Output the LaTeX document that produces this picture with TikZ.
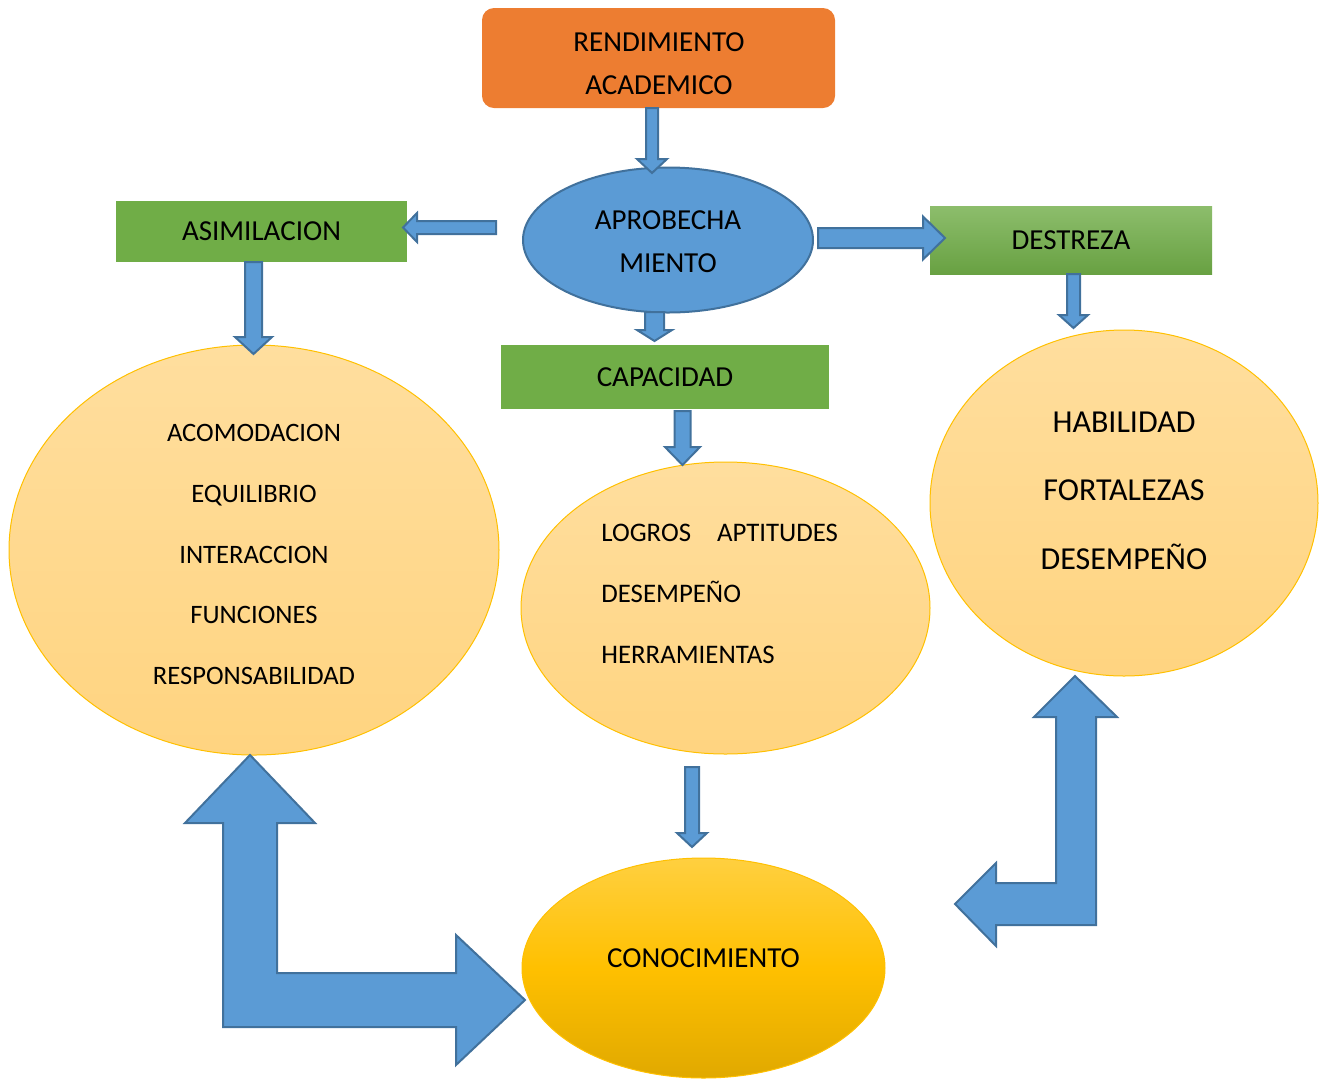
\documentclass[tikz,border=0pt]{standalone}
\usepackage{fontspec}
\setmainfont{Carlito}
\usetikzlibrary{shapes.geometric}

\definecolor{naranja}{HTML}{ED7D31}
\definecolor{azul}{HTML}{5B9BD5}
\definecolor{azulborde}{HTML}{41719C}
\definecolor{verde}{HTML}{70AD47}
\definecolor{oro}{HTML}{FFC000}
\definecolor{cremaclara}{HTML}{FFDE9E}
\definecolor{crema}{HTML}{FFD480}

% flecha vertical: x, y inicio, y base punta, y punta, ancho, ancho punta
\newcommand{\flechaV}[6]{%
  \draw[flecha] ({#1-#5/2},#2) -- ({#1+#5/2},#2) -- ({#1+#5/2},#3) -- ({#1+#6/2},#3)
    -- (#1,#4) -- ({#1-#6/2},#3) -- ({#1-#5/2},#3) -- cycle;}
% flecha horizontal: y, x inicio, x base punta, x punta, ancho, ancho punta
\newcommand{\flechaH}[6]{%
  \draw[flecha] (#2,{#1-#5/2}) -- (#2,{#1+#5/2}) -- (#3,{#1+#5/2}) -- (#3,{#1+#6/2})
    -- (#4,#1) -- (#3,{#1-#6/2}) -- (#3,{#1-#5/2}) -- cycle;}

\begin{document}
\begin{tikzpicture}[x=0.5pt, y=-0.5pt,
	flecha/.style={fill=azul, draw=azulborde, line width=1pt},
	caja/.style={rectangle, fill=verde, inner sep=0pt, font=\fontsize{14.5}{17}\selectfont},
	elipse/.style={ellipse, inner sep=0pt, draw=oro, line width=0.5pt, top color=cremaclara, bottom color=crema},
	texto/.style={align=center, inner sep=0pt}]
	\useasboundingbox (0,0) rectangle (1324,1078);
	% cajas y elipses
	\node[rectangle, rounded corners=6pt, fill=naranja, minimum width=176.5pt, minimum height=50pt] (rend) at (658.5,58) {};
	\node[texto, font=\fontsize{14.5}{21.5}\selectfont] (rendtxt) at (659,63.5) {RENDIMIENTO\\ACADEMICO};
	\node[ellipse, fill=azul, draw=azulborde, line width=1pt, inner sep=0pt, minimum width=145pt, minimum height=72.5pt] (aprov) at (668,240) {};
	\node[texto, font=\fontsize{14.5}{21.5}\selectfont] (aprovtxt) at (668,241.5) {APROBECHA\\MIENTO};
	\node[caja, minimum width=145.5pt, minimum height=30.5pt] (asim) at (261.5,231.5) {ASIMILACION};
	\node[caja, minimum width=141pt, minimum height=34pt, top color=verde!80!white, bottom color=verde!93!black] (destr) at (1071,240) {DESTREZA};
	\node[caja, minimum width=164pt, minimum height=32pt] (capac) at (665,377) {CAPACIDAD};
	\node[elipse, minimum width=245pt, minimum height=205pt] (izq) at (254,550) {};
	\node[texto, font=\fontsize{13.3}{30.4}\selectfont] (izqtxt) at (254,554.5)
		{ACOMODACION\\EQUILIBRIO\\INTERACCION\\FUNCIONES\\RESPONSABILIDAD};
	\node[elipse, minimum width=204.5pt, minimum height=146pt] (medio) at (725.5,608) {};
	\node[texto, align=left, anchor=west, font=\fontsize{13.4}{30.5}\selectfont] (mediotxt) at (601,594)
		{LOGROS\hspace{13pt}APTITUDES\\DESEMPEÑO\\HERRAMIENTAS};
	\node[elipse, minimum width=194pt, minimum height=173pt] (der) at (1124,503) {};
	\node[texto, font=\fontsize{16}{34.25}\selectfont] (dertxt) at (1124,490.5)
		{HABILIDAD\\FORTALEZAS\\DESEMPEÑO};
	\node[ellipse, inner sep=0pt, draw=oro, line width=0.5pt, minimum width=181.5pt, minimum height=110pt,
		top color=oro!75!white, bottom color=oro!88!black, middle color=oro] (cono) at (703.5,968) {};
	\node[texto, font=\fontsize{14.5}{17}\selectfont] (conotxt) at (703.5,958) {CONOCIMIENTO};
	% flechas
	\flechaV{652}{108}{159}{173}{12}{30}
	\flechaH{227.5}{496}{417}{403}{13}{29}
	\flechaH{238}{818}{923}{945}{20}{43}
	\flechaV{654.5}{312}{330}{341}{19}{35}
	\flechaV{253.5}{262}{337}{354}{17}{37}
	\flechaV{1073.5}{274}{315}{328}{13}{29}
	\flechaV{682.5}{411}{447}{465}{16}{35}
	\flechaV{692}{767}{833}{847}{14}{30}
	\draw[flecha] (250,755) -- (315,823) -- (277,823) -- (277,973) -- (456,973) -- (456,935) -- (525,1000)
		-- (456,1065) -- (456,1027) -- (223,1027) -- (223,823) -- (185,823) -- cycle;
	\draw[flecha] (1075,676) -- (1117,717) -- (1096,717) -- (1096,925) -- (996,925) -- (996,946) -- (955,904)
		-- (996,863) -- (996,883) -- (1056,883) -- (1056,717) -- (1034,717) -- cycle;
\end{tikzpicture}
\end{document}
